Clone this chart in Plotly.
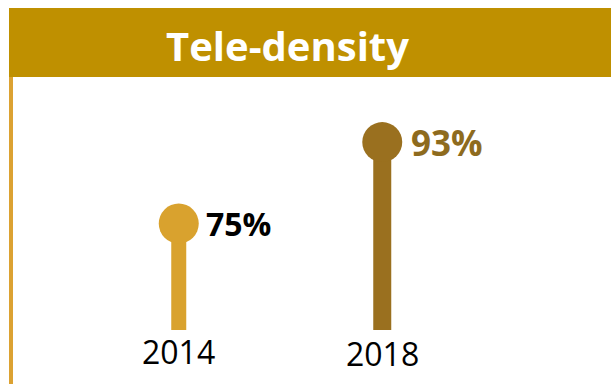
import plotly.graph_objects as go

# ---- data ----
years = ["2014", "2018"]
values = [75, 93]
value_labels = ["75%", "93%"]
title_text = "Tele-density"

# ---- styles ----
stem_colors = ["#D9A22E", "#9A701F"]
label_colors = ["#000000", "#8E6B1E"]
label_sizes = [32, 35]
stem_widths = [15, 18]
FONT = "Open Sans, Lato, sans-serif"
HEADER = "#BF9000"
SIDE = "#DCA232"

W, H = 611, 384
# plot area in page pixels: x 77..484, y 100..330
ML, MR, MT, MB = 77, W - 484, 100, H - 330
PW, PH = W - ML - MR, H - MT - MB
Y_MIN, Y_MAX = 51.5, 102.3


def px_x(p):  # page pixel -> paper
    return (p - ML) / PW


def px_y(p):
    return (H - MB - p) / PH


fig = go.Figure()
for i, (v, c, w) in enumerate(zip(values, stem_colors, stem_widths)):
    fig.add_trace(go.Scatter(x=[i, i], y=[Y_MIN, v], mode="lines",
                             line=dict(color=c, width=w), hoverinfo="skip",
                             showlegend=False))
fig.add_trace(go.Scatter(x=list(range(len(years))), y=values, mode="markers",
                         marker=dict(size=40, color=stem_colors, line=dict(width=0)),
                         showlegend=False, cliponaxis=False))

annotations = []
for i, (v, lab, lc, ls) in enumerate(zip(values, value_labels, label_colors, label_sizes)):
    annotations.append(dict(x=i, y=v, xref="x", yref="y", text="<b>%s</b>" % lab,
                            showarrow=False, xanchor="left", yanchor="middle",
                            xshift=25 + 2 * i, font=dict(family=FONT, size=ls, color=lc)))
for i, yr in enumerate(years):
    annotations.append(dict(x=i, y=0, xref="x", yref="paper", text=yr,
                            showarrow=False, xanchor="center", yanchor="middle",
                            yshift=-21 - 2 * i,
                            font=dict(family=FONT, size=32, color="#000000")))
annotations.append(dict(x=px_x(287), y=px_y(45), xref="paper", yref="paper",
                        text="<b>%s</b>" % title_text, showarrow=False,
                        xanchor="center", yanchor="middle",
                        font=dict(family=FONT, size=40, color="#FFFFFF")))

shapes = [
    dict(type="rect", xref="paper", yref="paper", x0=px_x(9), x1=px_x(W + 5),
         y0=px_y(77), y1=px_y(8), fillcolor=HEADER, line=dict(width=0), layer="below"),
    dict(type="rect", xref="paper", yref="paper", x0=px_x(9), x1=px_x(13),
         y0=px_y(H + 5), y1=px_y(77), fillcolor=SIDE, line=dict(width=0), layer="below"),
]

fig.update_layout(
    width=W, height=H,
    margin=dict(l=ML, r=MR, t=MT, b=MB),
    paper_bgcolor="#FFFFFF", plot_bgcolor="#FFFFFF",
    xaxis=dict(range=[-0.5, len(years) - 0.5], visible=False, fixedrange=True),
    yaxis=dict(range=[Y_MIN, Y_MAX], visible=False, fixedrange=True),
    annotations=annotations, shapes=shapes, showlegend=False,
)

fig.write_html("out.html", config={"displayModeBar": False},
               post_script="document.body.style.margin='0';"
                           "document.body.style.overflow='hidden';")
